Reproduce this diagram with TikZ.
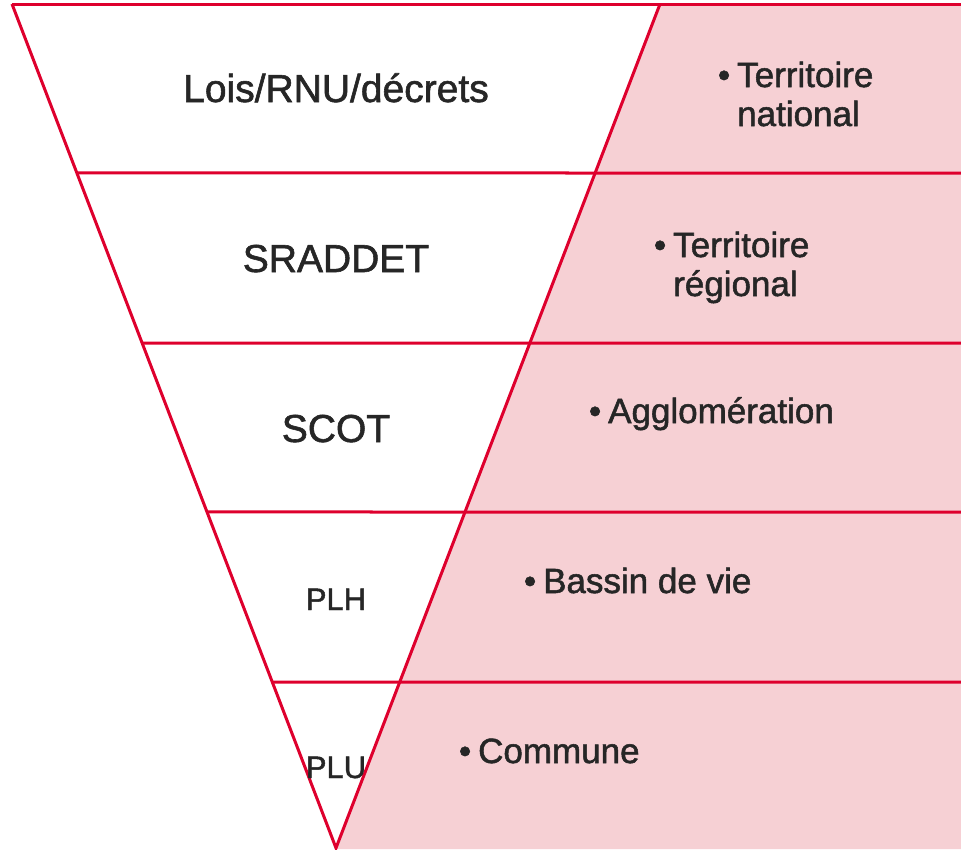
\documentclass[tikz,border=0pt]{standalone}
\usepackage{fontspec}
\setmainfont{Liberation Sans}[FakeBold=1.5]
\usetikzlibrary{calc,positioning}
\definecolor{lawred}{RGB}{222,0,45}
\definecolor{zonepink}{RGB}{246,208,212}
\definecolor{inkgrey}{RGB}{38,38,38}

\begin{document}
\begin{tikzpicture}[x=1pt,y=-1pt,
    border/.style={draw=lawred,line width=3pt},
    plan/.style={anchor=base,inner sep=0pt,text=inkgrey,font=\fontsize{39}{44}\selectfont},
    small plan/.style={plan,font=\fontsize{31}{35}\selectfont},
    area/.style={anchor=base west,align=left,inner sep=0pt,text=inkgrey,font=\fontsize{35}{39}\selectfont}]
    \useasboundingbox (0,0) rectangle (961,849);
    \coordinate (top_l) at (12,4);
    \coordinate (top_r) at (660,4);
    \coordinate (apex) at (336,848);
    % pink side of the funnel
    \fill[zonepink] (top_r) -- (961,4) -- (961,849) -- (335.6,849) -- cycle;
    \draw[border] (top_l) -- (961,4);
    \foreach \y in {173,343,512,682}
        \draw[border] ($(top_l)!{(\y-4)/844}!(apex)$) -- (961,\y);
    \draw[border,line join=miter] (top_l) -- (apex) -- (top_r);
    % plans
    \node[plan] (lois) at (336,102) {Lois/RNU/décrets};
    \node[plan] (sraddet) at (336,272) {SRADDET};
    \node[plan] (scot) at (336,442) {SCOT};
    \node[small plan] (plh) at (336,610) {PLH};
    \node[small plan] (plu) at (336,778) {PLU};
    % territories (base = last line)
    \node[area] (nat) at (737,126) {\llap{•\hspace{7pt}}Territoire\\national};
    \node[area] (reg) at (673,296) {\llap{•\hspace{7pt}}Territoire\\régional};
    \node[area] (agglo) at (608,423) {\llap{•\hspace{7pt}}Agglomération};
    \node[area] (bassin) at (543,593) {\llap{•\hspace{7pt}}Bassin de vie};
    \node[area] (commune) at (478,763) {\llap{•\hspace{7pt}}Commune};
\end{tikzpicture}
\end{document}
